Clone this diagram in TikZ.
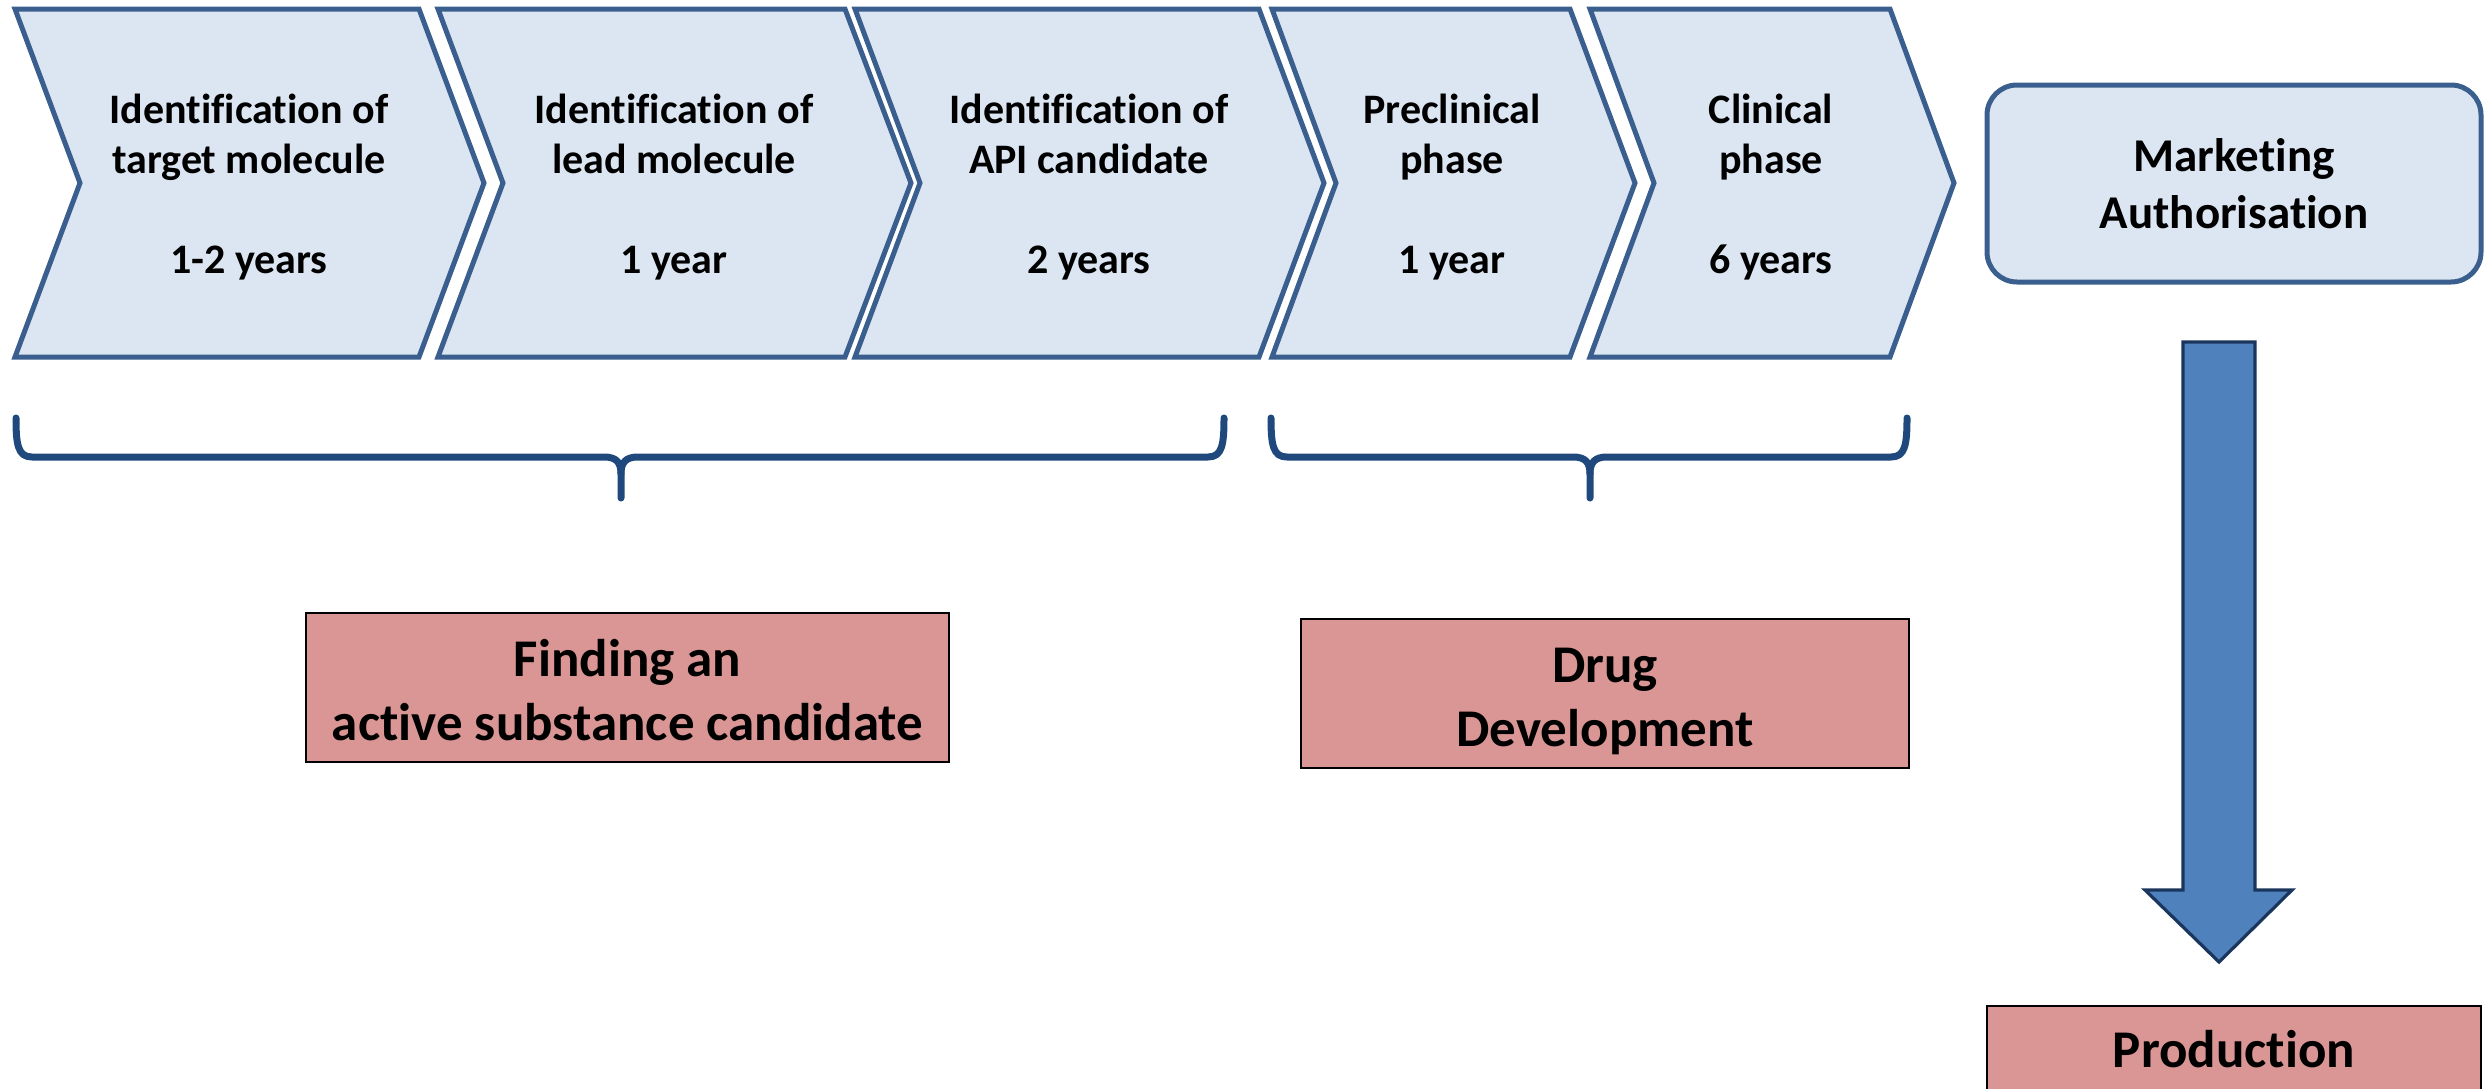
\documentclass[tikz,border=0pt]{standalone}
\usepackage{fontspec}
\setmainfont{Carlito}[Ligatures=NoCommon]
\definecolor{chevfill}{HTML}{DCE6F2}
\definecolor{chevline}{HTML}{3A5F8E}
\definecolor{bracecol}{HTML}{1F497D}
\definecolor{redfill}{HTML}{D99694}
\definecolor{arrowfill}{HTML}{4F81BD}
\definecolor{arrowline}{HTML}{1B365D}
\tikzset{
  chev/.style={fill=chevfill, draw=chevline, line width=2.5pt, line join=miter},
  chevtext/.style={align=center, inner sep=0pt, font=\fontsize{21}{25}\selectfont\bfseries},
  mktbox/.style={fill=chevfill, draw=chevline, line width=2.5pt, rounded corners=15pt,
    align=center, inner sep=0pt, minimum width=247pt, minimum height=98.5pt,
    font=\fontsize{23.5}{28.5}\selectfont\bfseries},
  redbox/.style={fill=redfill, draw=black, line width=1.2pt, inner sep=0pt},
  redtext/.style={align=center, inner sep=0pt, font=\fontsize{26.5}{32}\selectfont\bfseries},
  bracepath/.style={draw=bracecol, line width=3.5pt, line cap=round, line join=round},
  bigarrow/.style={fill=arrowfill, draw=arrowline, line width=1.6pt, line join=miter}
}
\begin{document}
\begin{tikzpicture}[x=0.5pt,y=-0.5pt]
\useasboundingbox (0,0) rectangle (2484,1088);
\clip (0,0) rectangle (2484,1088);

% process chevrons
\draw[chev] (15,9) -- (419,9) -- (484,183) -- (419,357) -- (15,357) -- (80,183) -- cycle;
\draw[chev] (438,9) -- (845,9) -- (911,183) -- (845,357) -- (438,357) -- (503,183) -- cycle;
\draw[chev] (855,9) -- (1259,9) -- (1324,183) -- (1259,357) -- (855,357) -- (920,183) -- cycle;
\draw[chev] (1272,9) -- (1570,9) -- (1635,183) -- (1570,357) -- (1272,357) -- (1336,183) -- cycle;
\draw[chev] (1590,9) -- (1890,9) -- (1954,183) -- (1890,357) -- (1590,357) -- (1654,183) -- cycle;

\node[chevtext] (target) at (249,187) {Identification of\\target molecule\\[25pt]1-2 years};
\node[chevtext] (lead) at (674,187) {Identification of\\lead molecule\\[25pt]1 year};
\node[chevtext] (api) at (1089,187) {Identification of\\API candidate\\[25pt]2 years};
\node[chevtext] (precl) at (1452,187) {Preclinical\\phase\\[25pt]1 year};
\node[chevtext] (clin) at (1771,187) {Clinical\\phase\\[25pt]6 years};

% marketing authorisation
\node[mktbox] (mkt) at (2234,183.5) {Marketing\\Authorisation};

% curly braces grouping the phases
\coordinate (b1l) at (16,418);
\coordinate (b1t) at (621,498);
\coordinate (b1r) at (1224,418);
\draw[bracepath] (b1l) .. controls (16,445) and (18,457) .. (32,457) -- (604,457)
  .. controls (616,457) and (621,462) .. (621,474) -- (b1t);
\draw[bracepath] (621,474) .. controls (621,462) and (626,457) .. (638,457) -- (1208,457)
  .. controls (1222,457) and (1224,445) .. (b1r);

\coordinate (b2l) at (1271,418);
\coordinate (b2t) at (1590,498);
\coordinate (b2r) at (1907,418);
\draw[bracepath] (b2l) .. controls (1271,445) and (1273,457) .. (1287,457) -- (1573,457)
  .. controls (1585,457) and (1590,462) .. (1590,474) -- (b2t);
\draw[bracepath] (1590,474) .. controls (1590,462) and (1595,457) .. (1607,457) -- (1891,457)
  .. controls (1905,457) and (1907,445) .. (b2r);

% stage summaries
\node[redbox, minimum width=321.5pt, minimum height=74.5pt] (find) at (627.5,687.5) {};
\node[redtext] (findtext) at (627.5,690) {Finding an\\active substance candidate};
\node[redbox, minimum width=304pt, minimum height=74.5pt] (drug) at (1605,693.5) {};
\node[redtext] (drugtext) at (1605,701) {Drug\\Development};

% block arrow down to production
\coordinate (a1) at (2183,342);
\coordinate (a2) at (2255,342);
\coordinate (a3) at (2255,890);
\coordinate (a4) at (2292,890);
\coordinate (atip) at (2219,962);
\coordinate (a5) at (2145,890);
\coordinate (a6) at (2183,890);
\draw[bigarrow] (a1) -- (a2) -- (a3) -- (a4) -- (atip) -- (a5) -- (a6) -- cycle;

% production
\coordinate (p1) at (1987,1006);
\coordinate (p2) at (2481,1120);
\path[redbox] (p1) rectangle (p2);
\node[redtext] (prod) at (2234,1049.5) {Production};
\end{tikzpicture}
\end{document}
